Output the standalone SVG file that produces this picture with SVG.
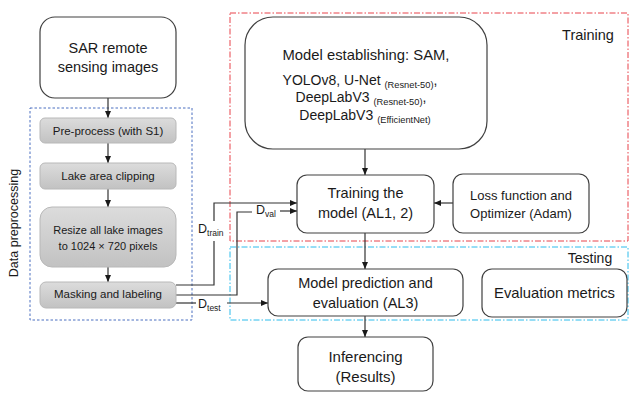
<svg xmlns="http://www.w3.org/2000/svg" width="635" height="393" viewBox="0 0 635 393">
<defs>
<linearGradient id="g" x1="0" y1="0" x2="0" y2="1">
<stop offset="0" stop-color="#dcdcdc"/>
<stop offset="1" stop-color="#c2c2c2"/>
</linearGradient>
<marker id="ah" markerWidth="8" markerHeight="8" refX="7" refY="4" orient="auto" markerUnits="userSpaceOnUse">
<path d="M0,1 L7,4 L0,7 Z" fill="#1a1a1a"/>
</marker>
</defs>
<style>
text{font-family:"Liberation Sans",Arial,sans-serif;fill:#1a1a1a}
.w{fill:#fff;stroke:#404040;stroke-width:1.2}
.gy{fill:url(#g);stroke:#b8b8b8;stroke-width:1}
.c{stroke:#333;stroke-width:1.2;fill:none}
.a{marker-end:url(#ah)}
.m{text-anchor:middle}
.s{font-size:11.5px}
.b{font-size:14.5px}
.sub{font-size:9.3px}
</style>
<g id="regions">
<rect x="30" y="108" width="162" height="212" fill="none" stroke="#4a6fc0" stroke-width="1" stroke-dasharray="2.5,2"/>
<rect x="230" y="13" width="398" height="228" fill="none" stroke="#e8424a" stroke-width="1" stroke-dasharray="6,2,1.5,2"/>
<rect x="230" y="247" width="398" height="73" fill="none" stroke="#2cbcec" stroke-width="1" stroke-dasharray="6,2,1.5,2"/>
<text x="18" y="223" font-size="12.5" class="m" transform="rotate(-90 18 223)">Data preprocessing</text>
<text x="588" y="40" font-size="14.5" class="m">Training</text>
<text x="590" y="263" font-size="14" class="m">Testing</text>
</g>
<g id="connectors">
<line class="c a" x1="108" y1="98" x2="108" y2="118"/>
<line class="c a" x1="108" y1="143" x2="108" y2="163"/>
<line class="c a" x1="108" y1="189" x2="108" y2="207"/>
<line class="c a" x1="108" y1="267" x2="108" y2="282"/>
<polyline class="c" points="176,285 214,285 214,241"/>
<polyline class="c a" points="214,221 214,203 297,203"/>
<polyline class="c" points="176,295 237,295 237,212 252,212"/>
<line class="c a" x1="280" y1="211" x2="297" y2="211"/>
<line class="c" x1="176" y1="303" x2="196" y2="303"/>
<line class="c a" x1="227" y1="303" x2="268" y2="303"/>
<line class="c a" x1="365" y1="149" x2="365" y2="175"/>
<line class="c a" x1="453" y1="203" x2="434" y2="203"/>
<line class="c a" x1="365" y1="233" x2="365" y2="269"/>
<line class="c a" x1="365" y1="316" x2="365" y2="337"/>
<text x="198" y="233" font-size="12.5">D<tspan font-size="8.5" dy="3">train</tspan></text>
<text x="256" y="214" font-size="12.5">D<tspan font-size="8.5" dy="3">val</tspan></text>
<text x="198" y="308" font-size="12.5">D<tspan font-size="8.5" dy="3">test</tspan></text>
</g>
<g id="sar">
<rect class="w" x="40" y="17" width="136" height="81" rx="15"/>
<text class="m b" x="108" y="53">SAR remote</text>
<text class="m b" x="108" y="72">sensing images</text>
</g>
<g id="preprocess">
<rect class="gy" x="40" y="118" width="136" height="25" rx="5"/>
<text class="m s" x="108" y="135">Pre-process (with S1)</text>
</g>
<g id="clipping">
<rect class="gy" x="40" y="163" width="136" height="26" rx="5"/>
<text class="m s" x="108" y="180">Lake area clipping</text>
</g>
<g id="resize">
<rect class="gy" x="40" y="207" width="136" height="60" rx="12"/>
<text class="m" font-size="11" x="108" y="234">Resize all lake images</text>
<text class="m" font-size="11" x="108" y="250">to 1024 × 720 pixels</text>
</g>
<g id="masking">
<rect class="gy" x="40" y="282" width="136" height="26" rx="6"/>
<text class="m s" x="108" y="298">Masking and labeling</text>
</g>
<g id="model">
<rect class="w" x="245" y="17" width="242" height="132" rx="28"/>
<text class="m" font-size="14.8" x="366" y="60">Model establishing: SAM,</text>
<text class="m" font-size="14" x="360" y="85">YOLOv8, U-Net <tspan class="sub" dy="3">(Resnet-50)</tspan><tspan dy="-3">,</tspan></text>
<text class="m" font-size="14" x="361" y="102">DeepLabV3 <tspan class="sub" dy="3">(Resnet-50)</tspan><tspan dy="-3">,</tspan></text>
<text class="m" font-size="14" x="365" y="120">DeepLabV3 <tspan class="sub" dy="3">(EfficientNet)</tspan></text>
</g>
<g id="training">
<rect class="w" x="297" y="175" width="137" height="58" rx="10"/>
<text class="m b" x="365.5" y="198">Training the</text>
<text class="m b" x="365.5" y="218">model (AL1, 2)</text>
</g>
<g id="loss">
<rect class="w" x="453" y="174" width="136" height="59" rx="10"/>
<text class="m" font-size="13" x="521" y="200">Loss function and</text>
<text class="m" font-size="13" x="521" y="218">Optimizer (Adam)</text>
</g>
<g id="prediction">
<rect class="w" x="268" y="269" width="195" height="47" rx="10"/>
<text class="m b" x="365.5" y="288">Model prediction and</text>
<text class="m b" x="365.5" y="308">evaluation (AL3)</text>
</g>
<g id="metrics">
<rect class="w" x="482" y="269" width="145" height="48" rx="10"/>
<text class="m" font-size="14.8" x="554.5" y="298">Evaluation metrics</text>
</g>
<g id="inferencing">
<rect class="w" x="298" y="337" width="135" height="54" rx="10"/>
<text class="m" font-size="15" x="365.5" y="362">Inferencing</text>
<text class="m" font-size="15" x="365.5" y="382">(Results)</text>
</g>
</svg>
